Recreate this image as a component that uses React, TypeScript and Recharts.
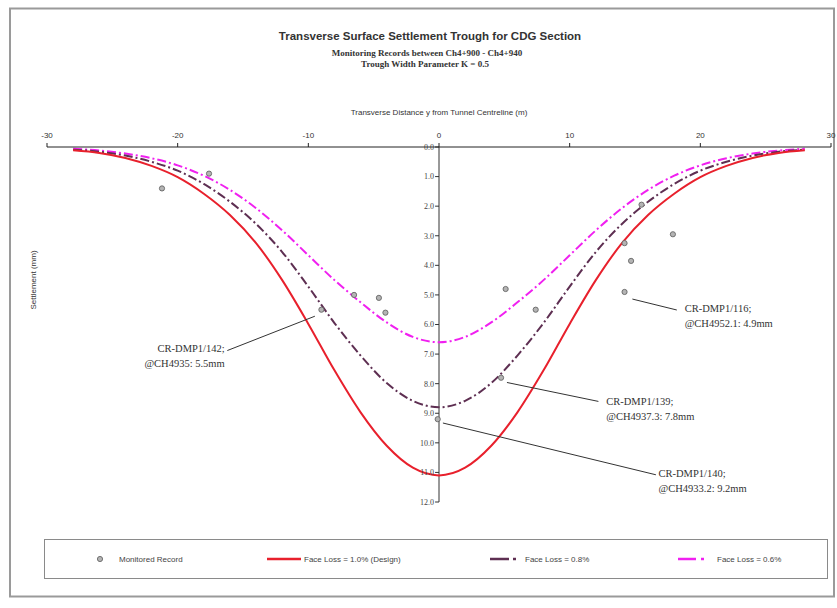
import React from 'react';
import {
  ComposedChart,
  Line,
  Scatter,
  XAxis,
  YAxis,
  ReferenceLine,
  ReferenceDot,
  Legend,
} from 'recharts';

// ---- data ----
const curveX = [-28, -26, -24, -22, -20, -18, -16, -14, -12, -10, -8, -6, -4, -2, 0, 2, 4, 6, 8, 10, 12, 14, 16, 18, 20, 22, 24, 26, 28];
const faceLoss10 = [0.11, 0.2, 0.37, 0.64, 1.02, 1.58, 2.3, 3.25, 4.5, 5.98, 7.55, 8.97, 10.1, 10.84, 11.1, 10.84, 10.1, 8.97, 7.55, 5.98, 4.5, 3.25, 2.3, 1.58, 1.02, 0.64, 0.37, 0.2, 0.11];
const faceLoss08 = [0.09, 0.16, 0.29, 0.5, 0.8, 1.25, 1.85, 2.6, 3.55, 4.72, 5.95, 7.05, 7.98, 8.58, 8.8, 8.58, 7.98, 7.05, 5.95, 4.72, 3.55, 2.6, 1.85, 1.25, 0.8, 0.5, 0.29, 0.16, 0.09];
const faceLoss06 = [0.06, 0.12, 0.22, 0.38, 0.62, 0.97, 1.45, 2.07, 2.82, 3.66, 4.5, 5.25, 5.93, 6.42, 6.6, 6.42, 5.93, 5.25, 4.5, 3.66, 2.82, 2.07, 1.45, 0.97, 0.62, 0.38, 0.22, 0.12, 0.06];

const recordX = [-21.2, -17.6, -9.0, -6.5, -4.6, -4.1, -0.1, 4.75, 5.1, 7.4, 14.2, 14.7, 14.2, 15.5, 17.9];
const recordY = [1.4, 0.9, 5.5, 5.0, 5.1, 5.6, 9.2, 7.8, 4.8, 5.5, 4.9, 3.85, 3.25, 1.95, 2.95];

const xTicks = [-30, -20, -10, 0, 10, 20, 30];
const yTicks = [0, 1, 2, 3, 4, 5, 6, 7, 8, 9, 10, 11, 12];

const seriesNames = ['Monitored Record', 'Face Loss = 1.0% (Design)', 'Face Loss = 0.8%', 'Face Loss = 0.6%'];

const annotationNames = ['CR-DMP1/142;', 'CR-DMP1/116;', 'CR-DMP1/139;', 'CR-DMP1/140;'];
const annotationRefs = ['@CH4935: 5.5mm', '@CH4952.1: 4.9mm', '@CH4937.3: 7.8mm', '@CH4933.2: 9.2mm'];

// ---- layout of annotations (data units) ----
const annotationLayout = [
  { from: [-9.5, 5.72], to: [-16.2, 6.88], text: [-16.4, 6.8], anchor: 'end' },
  { from: [14.8, 5.14], to: [18.2, 5.51], text: [18.8, 5.45], anchor: 'start' },
  { from: [5.2, 7.96], to: [12.2, 8.6], text: [12.8, 8.6], anchor: 'start' },
  { from: [0.3, 9.33], to: [16.6, 11.08], text: [16.8, 11.02], anchor: 'start' },
];

const curveTable = curveX.map((x, i) => ({
  x,
  d10: faceLoss10[i],
  d08: faceLoss08[i],
  d06: faceLoss06[i],
}));
const recordTable = recordX.map((x, i) => ({ x, y: recordY[i] }));

const RED = '#e8202c';
const PURPLE = '#5e2f52';
const MAGENTA = '#f020f0';
const SANS = '"Liberation Sans", Arial, sans-serif';
const SERIF = '"Liberation Serif", "Times New Roman", serif';

const AnnotationLabel = (props: any) => {
  const { viewBox, line1, line2, anchor } = props;
  if (!viewBox) return null;
  const cx = viewBox.x + viewBox.width / 2;
  const cy = viewBox.y + viewBox.height / 2;
  return (
    <text x={cx} y={cy} textAnchor={anchor} fontFamily={SERIF} fontSize={10.5} fill="#333">
      <tspan x={cx} dy="0.35em">{line1}</tspan>
      <tspan x={cx} dy={15}>{line2}</tspan>
    </text>
  );
};

const RecordMarker = (props: any) => {
  const { cx, cy } = props;
  if (cx == null || cy == null) return null;
  return <circle cx={cx} cy={cy} r={2.6} fill="#b4b4b4" stroke="#666" strokeWidth={0.9} />;
};

const renderLegend = () => (
  <div
    style={{
      width: 784,
      height: 40,
      border: '1.5px solid #8a8a8a',
      boxSizing: 'border-box',
      background: '#fff',
      position: 'relative',
    }}
  >
    <svg width={784} height={40} style={{ position: 'absolute', left: -1.5, top: -1.5 }}>
      <circle cx={56} cy={20} r={2.6} fill="#b4b4b4" stroke="#666" strokeWidth={0.9} />
      <text x={75} y={20} dy="0.35em" fontFamily={SANS} fontSize={8} fill="#444">{seriesNames[0]}</text>

      <line x1={223} y1={20} x2={257} y2={20} stroke={RED} strokeWidth={2.5} />
      <text x={260} y={20} dy="0.35em" fontFamily={SANS} fontSize={8} fill="#444">{seriesNames[1]}</text>

      <line x1={446} y1={20} x2={465} y2={20} stroke={PURPLE} strokeWidth={2.5} />
      <line x1={469} y1={20} x2={472} y2={20} stroke={PURPLE} strokeWidth={2.5} />
      <text x={481} y={20} dy="0.35em" fontFamily={SANS} fontSize={8} fill="#444">{seriesNames[2]}</text>

      <line x1={634} y1={20} x2={652} y2={20} stroke={MAGENTA} strokeWidth={2.5} />
      <line x1={657} y1={20} x2={660} y2={20} stroke={MAGENTA} strokeWidth={2.5} />
      <text x={673} y={20} dy="0.35em" fontFamily={SANS} fontSize={8} fill="#444">{seriesNames[3]}</text>
    </svg>
  </div>
);

export default function App() {
  return (
    <div style={{ position: 'absolute', left: 0, top: 0, width: 837, height: 608, background: '#fff', overflow: 'hidden' }}>
      <svg width={837} height={608} style={{ position: 'absolute', left: 0, top: 0 }}>
        <rect x={10} y={8.5} width={824} height={588} fill="none" stroke="#9a9a9a" strokeWidth={2} />
        <text x={430} y={36} textAnchor="middle" dy="0.35em" fontFamily={SANS} fontWeight="bold" fontSize={11.5} fill="#333">
          Transverse Surface Settlement Trough for CDG Section
        </text>
        <text x={427} y={53} textAnchor="middle" dy="0.35em" fontFamily={SERIF} fontWeight="bold" fontSize={9} fill="#333">
          Monitoring Records between Ch4+900 - Ch4+940
        </text>
        <text x={425} y={64} textAnchor="middle" dy="0.35em" fontFamily={SERIF} fontWeight="bold" fontSize={9} fill="#333">
          Trough Width Parameter K = 0.5
        </text>
        <text
          x={33}
          y={280}
          textAnchor="middle"
          dy="0.35em"
          transform="rotate(-90 33 280)"
          fontFamily={SANS}
          fontSize={8}
          fill="#333"
        >
          Settlement (mm)
        </text>
      </svg>
      <div style={{ position: 'absolute', left: 0, top: 0 }}>
        <ComposedChart width={837} height={608} data={curveTable} margin={{ top: 107, right: 6, bottom: 106, left: 47 }}>
          <XAxis
            dataKey="x"
            type="number"
            orientation="top"
            domain={[-30, 30]}
            ticks={xTicks}
            height={40}
            tickSize={4}
            tickMargin={5}
            axisLine={{ stroke: '#222', strokeWidth: 1 }}
            tickLine={{ stroke: '#222' }}
            tick={{ fontSize: 8, fill: '#333', fontFamily: SANS }}
            label={{ value: 'Transverse Distance y from Tunnel Centreline (m)', position: 'insideTop', offset: 2, fontSize: 8, fill: '#333', fontFamily: SANS }}
          />
          <YAxis type="number" domain={[0, 12]} reversed hide />

          <ReferenceLine x={0} stroke="#333" strokeWidth={1} />
          {yTicks.map((v) => (
            <ReferenceLine
              key={'yt' + v}
              segment={[{ x: -0.3, y: v }, { x: 0, y: v }]}
              stroke="#333"
              strokeWidth={1}
            />
          ))}
          {yTicks.map((v) => (
            <ReferenceDot
              key={'yl' + v}
              x={0}
              y={v}
              r={1}
              fill="none"
              stroke="none"
              label={{ value: v.toFixed(1), position: 'left', offset: 4, fontSize: 8, fill: '#444', fontFamily: SERIF }}
            />
          ))}

          <Line
            type="monotone"
            dataKey="d06"
            name={seriesNames[3]}
            stroke={MAGENTA}
            strokeWidth={2}
            strokeDasharray="9 3 2 3"
            dot={false}
            isAnimationActive={false}
          />
          <Line
            type="monotone"
            dataKey="d08"
            name={seriesNames[2]}
            stroke={PURPLE}
            strokeWidth={2}
            strokeDasharray="9 3 2 3"
            dot={false}
            isAnimationActive={false}
          />
          <Line
            type="monotone"
            dataKey="d10"
            name={seriesNames[1]}
            stroke={RED}
            strokeWidth={2}
            dot={false}
            isAnimationActive={false}
          />
          <Scatter data={recordTable} dataKey="y" name={seriesNames[0]} shape={<RecordMarker />} isAnimationActive={false} />

          {annotationLayout.map((a, i) => (
            <ReferenceLine
              key={'al' + i}
              segment={[{ x: a.from[0], y: a.from[1] }, { x: a.to[0], y: a.to[1] }]}
              stroke="#333"
              strokeWidth={1}
            />
          ))}
          {annotationLayout.map((a, i) => (
            <ReferenceDot
              key={'at' + i}
              x={a.text[0]}
              y={a.text[1]}
              r={1}
              fill="none"
              stroke="none"
              label={<AnnotationLabel line1={annotationNames[i]} line2={annotationRefs[i]} anchor={a.anchor} />}
            />
          ))}

          <Legend
            layout="horizontal"
            verticalAlign="middle"
            align="center"
            content={renderLegend}
            wrapperStyle={{ position: 'absolute', left: 44, top: 539, width: 784, height: 40 }}
          />
        </ComposedChart>
      </div>
    </div>
  );
}
